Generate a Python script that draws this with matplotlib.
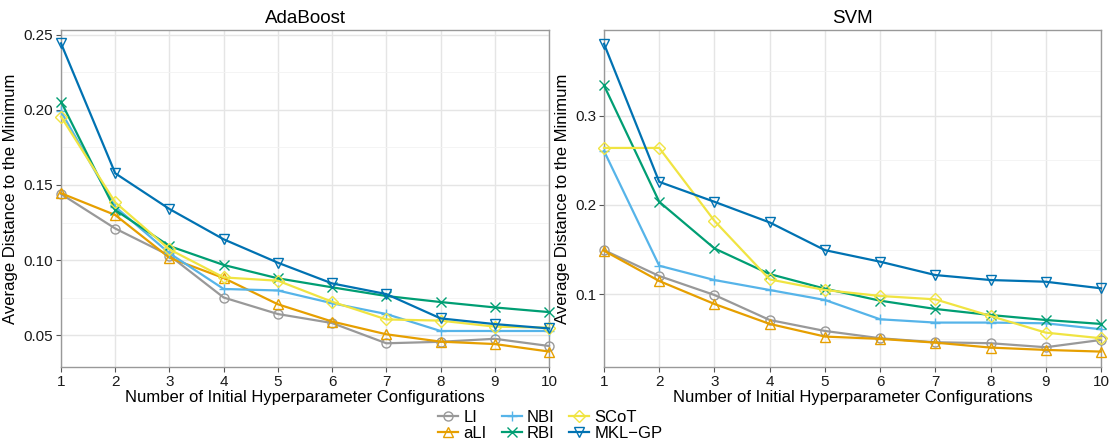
import matplotlib
matplotlib.use("Agg")
import matplotlib.pyplot as plt
from matplotlib.ticker import MultipleLocator

plt.rcParams['font.family'] = ['Liberation Sans', 'DejaVu Sans']

x = list(range(1, 11))
methods = ["LI", "aLI", "NBI", "RBI", "SCoT", "MKL-GP"]
labels = ["LI", "aLI", "NBI", "RBI", "SCoT", "MKL\u2212GP"]
colors = ["#999999", "#E69F00", "#56B4E9", "#009E73", "#F0E442", "#0072B2"]
markers = ["o", "^", "+", "x", "D", "v"]

ada_LI    = [0.144, 0.121, 0.103, 0.075, 0.064, 0.058, 0.0445, 0.0455, 0.0475, 0.0427]
ada_aLI   = [0.1445, 0.130, 0.1015, 0.088, 0.0705, 0.059, 0.0505, 0.0456, 0.044, 0.039]
ada_NBI   = [0.199, 0.1355, 0.1045, 0.0807, 0.0797, 0.0712, 0.064, 0.0527, 0.0527, 0.0527]
ada_RBI   = [0.2056, 0.1333, 0.1093, 0.0967, 0.0878, 0.0818, 0.076, 0.072, 0.0684, 0.0653]
ada_SCoT  = [0.1956, 0.1384, 0.1071, 0.0884, 0.0862, 0.0722, 0.0604, 0.0596, 0.0556, 0.0549]
ada_MKLGP = [0.2444, 0.1578, 0.134, 0.1138, 0.0982, 0.0844, 0.0773, 0.0611, 0.0573, 0.0544]

svm_LI    = [0.1493, 0.1202, 0.0989, 0.0708, 0.0585, 0.0503, 0.0458, 0.0447, 0.0402, 0.0484]
svm_aLI   = [0.1486, 0.1146, 0.0888, 0.0664, 0.0522, 0.0496, 0.0454, 0.0398, 0.0372, 0.0353]
svm_NBI   = [0.2607, 0.1318, 0.1157, 0.1045, 0.0933, 0.0716, 0.0679, 0.0679, 0.0671, 0.0604]
svm_RBI   = [0.3344, 0.2036, 0.1512, 0.1224, 0.106, 0.0925, 0.0832, 0.0764, 0.0708, 0.0664]
svm_SCoT  = [0.2641, 0.2641, 0.1822, 0.1164, 0.1045, 0.0978, 0.094, 0.0753, 0.0566, 0.0503]
svm_MKLGP = [0.3811, 0.226, 0.2036, 0.1804, 0.1493, 0.1363, 0.1213, 0.1157, 0.1138, 0.1064]

ada = [ada_LI, ada_aLI, ada_NBI, ada_RBI, ada_SCoT, ada_MKLGP]
svm = [svm_LI, svm_aLI, svm_NBI, svm_RBI, svm_SCoT, svm_MKLGP]

W, H = 1114, 446
fig = plt.figure(figsize=(W / 100, H / 100), dpi=100)

def px_axes(x0, x1, y0, y1):
    return fig.add_axes([x0 / W, 1 - y1 / H, (x1 - x0) / W, (y1 - y0) / H])

ax1 = px_axes(61, 549, 30, 367)
ax2 = px_axes(604, 1101, 30, 367)

def style(ax, title, ylim, major, minor):
    ax.set_xlim(1, 10)
    ax.set_ylim(*ylim)
    ax.set_xticks(x)
    ax.yaxis.set_minor_locator(MultipleLocator(minor))
    ax.grid(which='major', color='#e5e5e5', linewidth=1.0)
    ax.grid(which='minor', axis='y', color='#f3f3f3', linewidth=0.6)
    ax.set_axisbelow(True)
    for s in ax.spines.values():
        s.set_color('#999999')
        s.set_linewidth(1.0)
    ax.tick_params(which='major', length=3.5, color='#555555', labelsize=11,
                   labelcolor='#1a1a1a', pad=2)
    ax.tick_params(which='minor', length=0)
    ax.set_title(title, fontsize=13.5, pad=5)
    ax.set_xlabel("Number of Initial Hyperparameter Configurations", fontsize=12, labelpad=1)
    ax.set_ylabel("Average Distance to the Minimum", fontsize=12, labelpad=4)

def draw(ax, data):
    handles = []
    for vals, lab, c, m in zip(data, labels, colors, markers):
        ms = 6.5 if m in ("o", "^", "v") else (6 if m == "D" else 7)
        h, = ax.plot(x, vals, color=c, linewidth=1.6, marker=m, markersize=ms,
                     markerfacecolor='none', markeredgecolor=c, markeredgewidth=1.0,
                     label=lab, clip_on=False, zorder=3)
        handles.append(h)
    return handles

handles = draw(ax1, ada)
draw(ax2, svm)
style(ax1, "AdaBoost", (0.0287, 0.2533), 0.05, 0.025)
style(ax2, "SVM", (0.018, 0.3966), 0.1, 0.05)
ax1.set_yticks([0.05, 0.10, 0.15, 0.20, 0.25])
ax1.set_yticklabels(["0.05", "0.10", "0.15", "0.20", "0.25"])
ax2.set_yticks([0.1, 0.2, 0.3])
ax2.set_yticklabels(["0.1", "0.2", "0.3"])

fig.legend(handles=handles, labels=labels, loc='lower center', ncol=3,
           bbox_to_anchor=(0.494, -0.022), frameon=False, fontsize=12,
           handlelength=1.2, handletextpad=0.3, columnspacing=0.9,
           labelspacing=0.05)

fig.savefig("out.png", dpi=100)
